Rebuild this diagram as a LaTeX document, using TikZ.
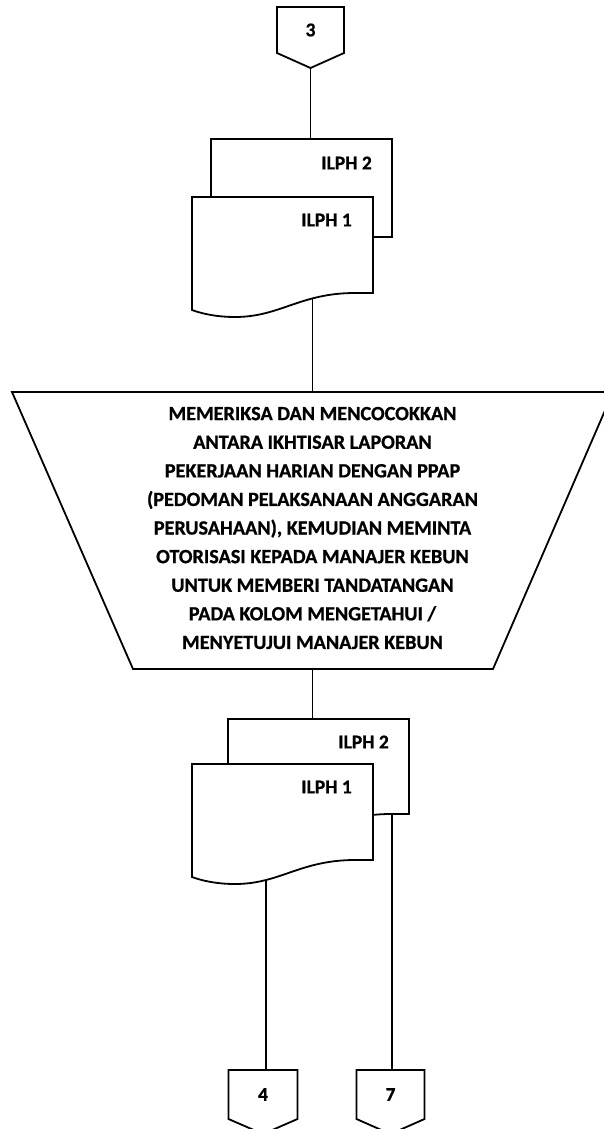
\documentclass[tikz,border=0pt]{standalone}
\usepackage{fontspec}
\setmainfont[BoldFeatures={FakeBold=0.8}]{Carlito}
\usetikzlibrary{calc,backgrounds}

\tikzset{
  outline/.style={draw=black, line width=1.8pt, fill=white, line join=miter},
  link/.style={draw=black, line width=1.8pt},
  lbl/.style={font=\bfseries\fontsize{19.5}{22}\selectfont, inner sep=0pt},
  area/.style={draw=none, inner sep=0pt, outer sep=0pt},
}

% document symbol with a wavy lower edge: #1 name, #2 left, #3 top, #4 right, #5 bottom (at the right edge)
\newcommand\docsymbol[5]{%
  \path[outline] (#2,#3) -- (#4,#3) -- (#4,#5) -- ({#4-18},#5)
    .. controls ({#4-73},#5) and ({#4-93},{#5+24}) .. ({#2+43},{#5+24})
    .. controls ({#2+23},{#5+24}) and ({#2+8},{#5+20}) .. (#2,{#5+17}) -- cycle;
  \node[area, minimum width={(#4-#2)*1pt}, minimum height={(#5-#3)*1pt}]
    (#1) at ({(#2+#4)/2},{(#3+#5)/2}) {};%
}

% off-page connector: #1 name, #2 centre x, #3 centre y, #4 width, #5 height, #6 text
\newcommand\offpage[6]{%
  \node[area, lbl, minimum width={#4*1pt}, minimum height={#5*1pt}] (#1) at (#2,#3) {#6};
  \path[outline, fill=none] (#1.north west) -- (#1.north east) -- (#1.south east)
    -- ([yshift=-15pt]#1.south) -- (#1.south west) -- cycle;%
}

\begin{document}
\begin{tikzpicture}[x=1pt, y=-1pt]
\useasboundingbox (0,0) rectangle (603,1129);

% connector 3
\offpage{c3}{310.5}{30}{67}{46}{3}

% first pair of documents
\docsymbol{dAtwo}{211}{139}{392}{237}
\node[lbl, anchor=east] (dAtwoL) at (372,163) {ILPH 2};
\docsymbol{dAone}{192}{197}{373}{293}
\node[lbl, anchor=east] (dAoneL) at (352,220) {ILPH 1};

% manual process
\node[area, minimum width=601pt, minimum height=277pt] (proc) at (312.5,530.5) {};
\path[outline] (proc.north west) -- (proc.north east)
  -- ($(proc.south east)+(-120,0)$) -- ($(proc.south west)+(121,0)$) -- cycle;
\node[lbl, align=center, font=\bfseries\fontsize{20.2}{28.6}\selectfont] (proctext) at (312.5,528)
  {MEMERIKSA DAN MENCOCOKKAN\\
   ANTARA IKHTISAR LAPORAN\\
   PEKERJAAN HARIAN DENGAN PPAP\\
   (PEDOMAN PELAKSANAAN ANGGARAN\\
   PERUSAHAAN), KEMUDIAN MEMINTA\\
   OTORISASI KEPADA MANAJER KEBUN\\
   UNTUK MEMBERI TANDATANGAN\\
   PADA KOLOM MENGETAHUI /\\
   MENYETUJUI MANAJER KEBUN};

% second pair of documents
\docsymbol{dBtwo}{228}{719}{409}{814}
\node[lbl, anchor=east] (dBtwoL) at (389,742) {ILPH 2};
\docsymbol{dBone}{192}{764}{373}{860}
\node[lbl, anchor=east] (dBoneL) at (352,787) {ILPH 1};

% connectors 4 and 7
\offpage{c4}{263}{1094.5}{69}{49}{4}
\offpage{c7}{390.5}{1094.5}{68}{49}{7}

% exit point under the second ILPH 2
\coordinate (dBtwoOut) at ([xshift=-17pt]dBtwo.south east);

% flow lines, kept behind the symbols
\begin{scope}[on background layer]
  \draw[link] ([yshift=-15pt]c3.south) -- (dAtwo.north -| c3.south);
  \draw[link] (dAone.south -| proc.north) -- (proc.north);
  \draw[link] (proc.south) -- (dBtwo.north -| proc.south);
  \draw[link] ([xshift=3pt]dBone.south -| c4.north) -- ([xshift=3pt]c4.north);
  \draw[link] (dBtwoOut) -- (c7.north -| dBtwoOut);
\end{scope}
\end{tikzpicture}
\end{document}
